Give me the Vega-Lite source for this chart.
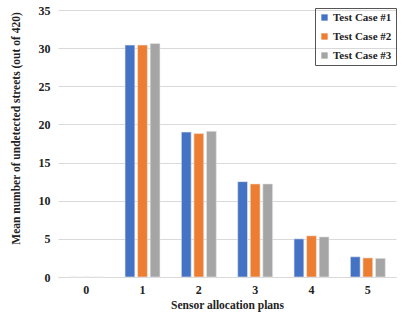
{
  "$schema": "https://vega.github.io/schema/vega-lite/v6.json",
  "width": 338,
  "height": 267,
  "autosize": "none",
  "padding": {"left": 58, "right": 7, "top": 10, "bottom": 43},
  "background": "white",
  "config": {
    "view": {"stroke": null},
    "font": "Liberation Serif",
    "axis": {"labelFont": "Liberation Serif", "titleFont": "Liberation Serif", "labelFontWeight": "bold", "titleFontWeight": "bold", "labelColor": "#222", "titleColor": "#222", "labelFontSize": 12, "titleFontSize": 11.5, "ticks": false, "gridColor": "#d9d9d9"},
    "legend": {"labelFont": "Liberation Serif", "labelFontWeight": "bold", "labelFontSize": 11, "labelColor": "#222"}
  },
  "data": {
    "values": [
      {"plan": "0", "case": "Test Case #1", "v": 0},
      {"plan": "0", "case": "Test Case #2", "v": 0},
      {"plan": "0", "case": "Test Case #3", "v": 0},
      {"plan": "1", "case": "Test Case #1", "v": 30.4},
      {"plan": "1", "case": "Test Case #2", "v": 30.4},
      {"plan": "1", "case": "Test Case #3", "v": 30.6},
      {"plan": "2", "case": "Test Case #1", "v": 19.0},
      {"plan": "2", "case": "Test Case #2", "v": 18.8},
      {"plan": "2", "case": "Test Case #3", "v": 19.1},
      {"plan": "3", "case": "Test Case #1", "v": 12.5},
      {"plan": "3", "case": "Test Case #2", "v": 12.2},
      {"plan": "3", "case": "Test Case #3", "v": 12.2},
      {"plan": "4", "case": "Test Case #1", "v": 5.0},
      {"plan": "4", "case": "Test Case #2", "v": 5.4},
      {"plan": "4", "case": "Test Case #3", "v": 5.25},
      {"plan": "5", "case": "Test Case #1", "v": 2.65},
      {"plan": "5", "case": "Test Case #2", "v": 2.5},
      {"plan": "5", "case": "Test Case #3", "v": 2.45}
    ]
  },
  "mark": {"type": "bar", "stroke": "#e8e8e8", "strokeWidth": 0.6},
  "encoding": {
    "x": {
      "field": "plan", "type": "nominal",
      "scale": {"paddingInner": 0.38, "paddingOuter": 0.19},
      "axis": {"labelAngle": 0, "title": "Sensor allocation plans", "domainColor": "#d9d9d9", "labelPadding": 7, "titlePadding": 4}
    },
    "xOffset": {"field": "case", "type": "nominal", "scale": {"paddingInner": 0.22}},
    "y": {
      "field": "v", "type": "quantitative",
      "scale": {"domain": [0, 35]},
      "axis": {"values": [0, 5, 10, 15, 20, 25, 30, 35], "domain": false, "title": "Mean number of  undetected  streets (out of 420)", "labelPadding": 8, "titlePadding": 17, "titleY": 118}
    },
    "color": {
      "field": "case", "type": "nominal",
      "scale": {"range": ["#4472C4", "#ED7D31", "#A5A5A5"]},
      "legend": {"title": null, "orient": "none", "legendX": 257, "legendY": -2, "strokeColor": "#555", "padding": 4, "symbolType": "square", "symbolSize": 40, "symbolStrokeWidth": 0, "rowPadding": 7, "labelOffset": 3}
    }
  }
}
